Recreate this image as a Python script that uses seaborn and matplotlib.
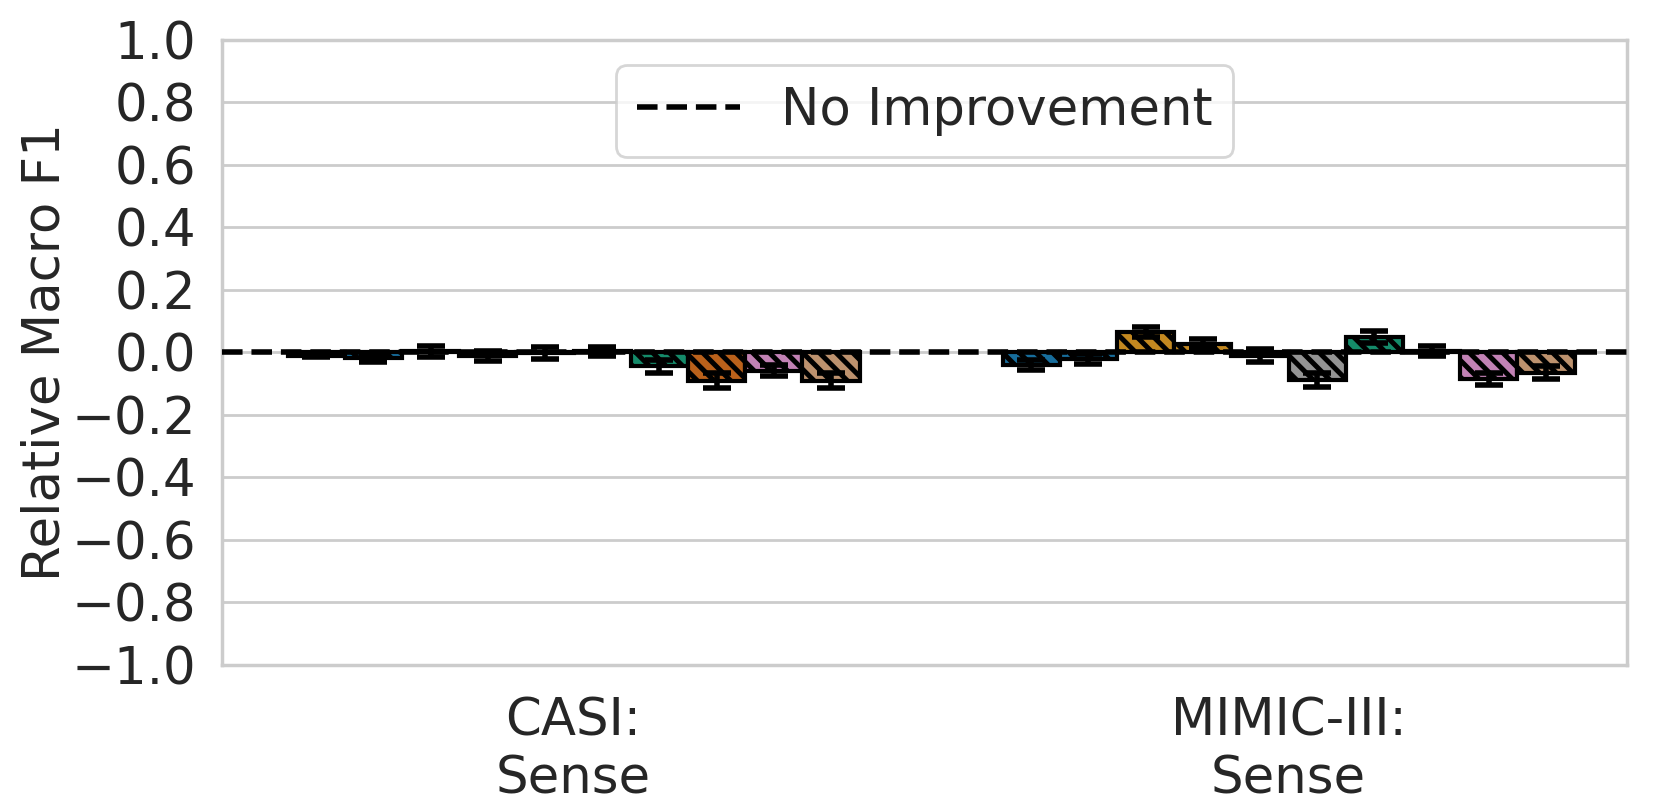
import matplotlib
matplotlib.use("Agg")
import matplotlib.pyplot as plt
import pandas as pd
import seaborn as sns

# data
datasets = ["CASI:\nSense", "MIMIC-III:\nSense"]
models = ["Model 1", "Model 2", "Model 3", "Model 4", "Model 5",
          "Model 6", "Model 7", "Model 8", "Model 9", "Model 10"]
casi_scores = [-0.010, -0.018, 0.003, -0.012, -0.002, 0.003, -0.045, -0.090, -0.058, -0.090]
casi_errors = [0.006, 0.014, 0.019, 0.017, 0.018, 0.013, 0.020, 0.023, 0.019, 0.023]
mimic_scores = [-0.040, -0.020, 0.064, 0.028, -0.010, -0.088, 0.048, 0.005, -0.085, -0.065]
mimic_errors = [0.015, 0.016, 0.016, 0.015, 0.022, 0.023, 0.019, 0.017, 0.019, 0.021]
bar_colors = ["#0173b2", "#0173b2", "#de8f05", "#de8f05", "#d55e00",
              "#949494", "#029e73", "#d55e00", "#cc78bc", "#ca9161"]
yticks = [-1.0, -0.8, -0.6, -0.4, -0.2, 0.0, 0.2, 0.4, 0.6, 0.8, 1.0]

rows = []
for ds, scores, errs in [(datasets[0], casi_scores, casi_errors),
                         (datasets[1], mimic_scores, mimic_errors)]:
    for m, s, e in zip(models, scores, errs):
        rows.append({"dataset": ds, "model": m, "score": s, "err": e})
df = pd.DataFrame(rows)

sns.set_theme(style="whitegrid")
plt.rcParams["font.family"] = ["DejaVu Sans"]
plt.rcParams["font.size"] = 18.5
plt.rcParams["hatch.linewidth"] = 1.8

fig, ax = plt.subplots(figsize=(8.3, 4.055), dpi=200)
sns.barplot(data=df, x="dataset", y="score", hue="model", hue_order=models,
            order=datasets, palette=bar_colors, errorbar=None,
            edgecolor="black", linewidth=1.5, hatch="\\\\\\\\", legend=False, ax=ax)

# error bars on the bars seaborn placed
bar_containers = list(ax.containers)
for i, cont in enumerate(bar_containers):
    for bar in cont:
        cx = bar.get_x() + bar.get_width() / 2
        cat = int(round(cx))
        r = df[(df["dataset"] == datasets[cat]) & (df["model"] == models[i])].iloc[0]
        ax.errorbar(cx, r["score"], yerr=r["err"], fmt="none", ecolor="black",
                    elinewidth=2, capsize=5, capthick=2, zorder=4)

ax.axhline(0, color="black", linestyle="--", linewidth=2, zorder=5,
           label="No Improvement")
ax.legend(loc="upper center", fontsize=18.5)

ax.set_ylim(-1.0, 1.0)
ax.set_yticks(yticks)
ax.set_xlim(-0.491, 1.473)
ax.set_xlabel("")
ax.set_ylabel("Relative Macro F1", fontsize=18.5, labelpad=0.5)
ax.tick_params(axis="y", labelsize=18.5, pad=3.5)
ax.tick_params(axis="x", labelsize=18.5, pad=5.5)

fig.subplots_adjust(left=0.134, right=0.98, top=0.951, bottom=0.18)
plt.savefig("out.png", dpi=200)
